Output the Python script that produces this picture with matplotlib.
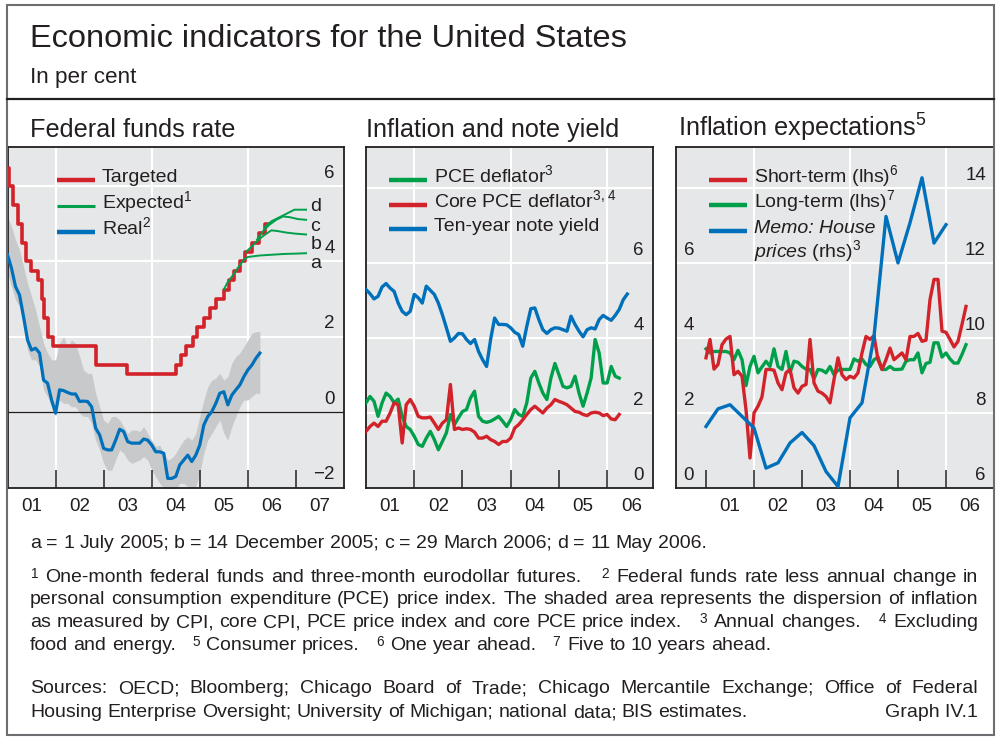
"""Economic indicators for the United States - three panel BIS-style chart."""

import matplotlib
matplotlib.use("Agg")
import matplotlib.pyplot as plt
import matplotlib.transforms as mtransforms
import numpy as np
from matplotlib.lines import Line2D
from matplotlib.patches import Rectangle

plt.rcParams["font.family"] = ["Liberation Sans", "DejaVu Sans"]
plt.rcParams["mathtext.fontset"] = "custom"
plt.rcParams["mathtext.rm"] = "Liberation Sans"
plt.rcParams["mathtext.it"] = "Liberation Sans:italic"
plt.rcParams["mathtext.bf"] = "Liberation Sans:bold"
plt.rcParams["mathtext.default"] = "regular"

# ── Colours ───────────────────────────────────────────────────────────────────
INK   = "#231f20"
BG    = "#e6e7e8"
RED   = "#d2232a"
GREEN = "#00a04b"
BLUE  = "#0070bb"
BAND  = "#c8c9cb"
FRAME = "#6d6e71"

# ── Data: Federal funds rate ─────────────────────────────────────────────────
target_dates = [2001.00, 2001.04, 2001.12, 2001.22, 2001.30, 2001.38, 2001.49, 2001.64,
                2001.71, 2001.76, 2001.85, 2001.94, 2002.85, 2003.48, 2004.50, 2004.61,
                2004.72, 2004.86, 2004.95, 2005.09, 2005.22, 2005.34, 2005.50, 2005.61,
                2005.72, 2005.83, 2005.95, 2006.08, 2006.24, 2006.36, 2006.40]
target_rate = [6.5, 6.0, 5.5, 5.0, 4.5, 4.0, 3.75, 3.5, 3.0, 2.5, 2.0, 1.75, 1.25, 1.0,
               1.25, 1.5, 1.75, 2.0, 2.25, 2.5, 2.75, 3.0, 3.25, 3.5, 3.75, 4.0, 4.25,
               4.5, 4.75, 5.0, 5.0]

exp_a_t = [2005.50, 2005.58, 2005.67, 2005.75, 2005.83, 2005.92, 2006.00, 2006.25, 2006.50,
           2006.75, 2007.00, 2007.21]
exp_a_v = [3.25, 3.45, 3.60, 3.75, 3.90, 4.05, 4.12, 4.16, 4.18, 4.20, 4.21, 4.22]
exp_b_t = [2005.96, 2006.08, 2006.18, 2006.27, 2006.35, 2006.49, 2006.62, 2006.80, 2007.00, 2007.21]
exp_b_v = [4.25, 4.40, 4.53, 4.63, 4.71, 4.83, 4.81, 4.77, 4.74, 4.72]
exp_c_t = [2006.19, 2006.31, 2006.45, 2006.59, 2006.73, 2006.87, 2007.04, 2007.21]
exp_c_v = [4.58, 4.80, 4.98, 5.11, 5.20, 5.18, 5.13, 5.11]
exp_d_t = [2006.35, 2006.49, 2006.63, 2006.80, 2006.97, 2007.21]
exp_d_v = [4.92, 5.07, 5.16, 5.27, 5.38, 5.38]
exp_names = ["a", "b", "c", "d"]
exp_name_y = [3.94, 4.44, 4.93, 5.47]

# monthly from Jan 2001
real_rate = [4.18, 3.82, 3.33, 3.11, 2.53, 1.91, 1.64, 1.69, 1.56, 0.84, 0.76, 0.31,
             -0.04, 0.58, 0.56, 0.51, 0.47, 0.47, 0.27, 0.28, 0.27, 0.13, -0.44, -0.62,
             -0.98, -1.02, -1.02, -0.76, -0.47, -0.53, -0.80, -0.84, -0.84, -0.84, -0.73, -0.76,
             -0.89, -1.07, -1.07, -1.11, -1.78, -1.78, -1.73, -1.42, -1.29, -1.16, -1.33, -1.16,
             -0.89, -0.36, -0.13, 0.00, 0.22, 0.49, 0.53, 0.18, 0.44, 0.58, 0.71, 0.93,
             1.11, 1.24, 1.42, 1.56]
real_hi = [5.20, 4.93, 4.58, 4.31, 3.87, 3.42, 3.07, 2.71, 2.27, 1.82, 1.56, 1.38,
           1.38, 1.82, 2.00, 1.73, 1.91, 1.82, 1.47, 1.11, 1.02, 1.02, 0.49, 0.13,
           -0.22, -0.31, -0.13, -0.13, -0.22, -0.40, -0.58, -0.49, -0.49, -0.53, -0.40, -0.58,
           -0.76, -0.93, -0.89, -1.11, -1.29, -1.24, -1.11, -0.93, -0.76, -0.67, -0.76, -0.58,
           -0.13, 0.31, 0.67, 0.84, 0.89, 1.02, 0.84, 0.93, 1.29, 1.47, 1.56, 1.73,
           1.91, 2.09, 2.13, 2.13]
real_lo = [3.69, 3.33, 2.98, 2.80, 2.27, 1.64, 1.38, 1.38, 1.20, 0.58, 0.40, 0.13,
           -0.13, 0.31, 0.22, 0.22, 0.13, 0.13, -0.04, -0.13, -0.13, -0.31, -0.76, -1.02,
           -1.38, -1.56, -1.56, -1.29, -1.02, -1.11, -1.29, -1.38, -1.33, -1.29, -1.20, -1.29,
           -1.56, -1.73, -1.91, -2.04, -2.18, -2.18, -2.09, -1.91, -1.91, -2.00, -2.09, -2.00,
           -1.64, -1.11, -0.76, -0.58, -0.40, -0.22, -0.58, -0.76, -0.40, -0.13, 0.13, 0.31,
           0.31, 0.40, 0.49, 0.49]

# ── Data: Inflation and note yield (monthly from Jan 2001) ───────────────────
pce_deflator = [2.27, 2.44, 2.31, 1.91, 2.27, 2.53, 2.44, 2.27, 2.37, 1.91, 1.64, 1.56,
                1.38, 1.16, 1.11, 1.33, 1.51, 1.29, 1.02, 1.24, 1.47, 1.96, 1.69, 1.87,
                2.04, 2.09, 2.40, 2.58, 1.91, 1.78, 1.75, 1.78, 1.84, 1.91, 1.78, 1.64,
                1.82, 2.09, 1.96, 1.91, 2.27, 2.93, 3.11, 2.80, 2.53, 2.36, 2.93, 3.32,
                3.02, 2.71, 2.67, 2.71, 2.98, 2.53, 2.18, 2.53, 2.93, 3.96, 3.60, 2.80,
                2.80, 3.24, 2.98, 2.93]
core_pce = [1.51, 1.64, 1.73, 1.64, 1.78, 1.78, 2.00, 2.27, 2.22, 1.20, 2.22, 2.36,
            2.18, 1.91, 1.87, 1.87, 1.89, 1.73, 1.56, 1.73, 1.82, 2.76, 1.56, 1.60,
            1.56, 1.58, 1.56, 1.49, 1.33, 1.33, 1.38, 1.29, 1.24, 1.16, 1.24, 1.24,
            1.33, 1.60, 1.69, 1.82, 1.96, 2.09, 2.18, 2.09, 2.00, 2.13, 2.22, 2.36,
            2.31, 2.27, 2.22, 2.13, 2.04, 2.02, 1.96, 1.93, 2.00, 2.02, 2.00, 1.93,
            1.96, 1.84, 1.82, 1.96]
ten_year = [5.29, 5.18, 5.04, 5.11, 5.36, 5.45, 5.33, 5.24, 4.93, 4.71, 4.62, 4.71,
            5.16, 5.07, 4.93, 5.38, 5.27, 5.16, 4.93, 4.62, 4.27, 3.91, 4.00, 4.12,
            4.11, 3.96, 3.85, 3.96, 3.64, 3.42, 3.24, 3.96, 4.53, 4.36, 4.36, 4.35,
            4.27, 4.15, 4.09, 3.78, 4.31, 4.78, 4.80, 4.49, 4.22, 4.12, 4.22, 4.27,
            4.26, 4.22, 4.18, 4.58, 4.36, 4.18, 4.03, 4.22, 4.27, 4.24, 4.49, 4.60,
            4.53, 4.47, 4.60, 4.76, 5.02, 5.17]

# ── Data: Inflation expectations (monthly from Jan 2001; house prices quarterly) ─
short_term = [3.47, 3.96, 3.17, 3.29, 3.82, 3.97, 4.04, 3.02, 3.11, 2.98, 2.09, 0.80,
              2.00, 2.18, 2.43, 3.16, 3.16, 3.14, 2.80, 2.62, 3.07, 3.16, 2.67, 2.53,
              2.71, 2.76, 3.96, 2.80, 2.58, 2.53, 2.44, 2.27, 2.89, 3.47, 3.02, 2.89,
              2.98, 2.93, 3.07, 3.60, 4.04, 3.96, 4.06, 3.42, 3.16, 3.42, 3.73, 3.42,
              3.51, 3.60, 3.42, 4.04, 4.04, 4.12, 3.91, 3.94, 5.02, 5.56, 5.56, 4.18,
              4.15, 3.96, 3.76, 3.91, 4.36, 4.84]
long_term = [3.71, 3.60, 3.64, 3.64, 3.64, 3.64, 3.60, 3.42, 3.67, 3.42, 2.73, 3.24,
             3.51, 3.07, 3.23, 3.38, 3.24, 3.71, 3.24, 3.16, 3.64, 3.08, 3.38, 3.35,
             3.24, 3.17, 3.16, 2.91, 3.16, 3.14, 3.07, 3.24, 3.02, 3.14, 3.16, 3.16,
             3.16, 3.44, 3.38, 3.44, 3.29, 3.24, 3.42, 3.49, 3.16, 3.16, 3.24, 3.16,
             3.16, 3.17, 3.38, 3.42, 3.42, 3.60, 3.07, 3.32, 3.35, 3.87, 3.87, 3.49,
             3.60, 3.44, 3.33, 3.33, 3.56, 3.82]
house_prices = [7.64, 8.11, 8.22, 7.91, 7.60, 6.53, 6.67, 7.20, 7.48, 7.13, 6.44, 6.04,
                7.87, 8.27, 10.04, 13.24, 12.00, 13.07, 14.27, 12.53, 13.02]

years_p1 = [2001, 2002, 2003, 2004, 2005, 2006, 2007]
years_p2 = [2001, 2002, 2003, 2004, 2005, 2006]
years_p3 = [2001, 2002, 2003, 2004, 2005, 2006]


def monthly(n, start=2001.0):
    return start + np.arange(n) / 12.0


def quarterly(n, start=2001.0):
    return start + np.arange(n) / 4.0


# ── Figure / layout (pixel based) ─────────────────────────────────────────────
W, H = 996, 737
fig = plt.figure(figsize=(W / 100, H / 100), dpi=100)


def fx(px):
    return px / W


def fy(py):
    return 1 - py / H


def panel(left, right, top=147, bottom=488):
    return fig.add_axes([fx(left), fy(bottom), fx(right) - fx(left), fy(top) - fy(bottom)])


fig.add_artist(Rectangle((fx(7), fy(735)), fx(994) - fx(7), fy(5) - fy(735),
                         fill=False, ec=FRAME, lw=1.5, transform=fig.transFigure))
fig.add_artist(Line2D([fx(7), fx(994)], [fy(99), fy(99)], color=INK, lw=1.6,
                      transform=fig.transFigure))

fig.text(fx(30), fy(47), "Economic indicators for the United States", fontsize=23.4,
         color=INK, va="baseline")
fig.text(fx(30), fy(83), "In per cent", fontsize=16.2, color=INK, va="baseline")
fig.text(fx(30), fy(137), "Federal funds rate", fontsize=18.2, color=INK, va="baseline")
fig.text(fx(366), fy(137), "Inflation and note yield", fontsize=18.2, color=INK, va="baseline")
fig.text(fx(678), fy(137), "Inflation expectations$^5$", fontsize=18.2, color=INK, va="baseline")

ax1 = panel(7.5, 344)
ax2 = panel(366, 653)
ax3 = panel(676, 994)


def style(ax, xlim, ylim, tick_years, label_years, hgrid):
    ax.set_facecolor(BG)
    ax.set_xlim(xlim)
    ax.set_ylim(ylim)
    for s in ax.spines.values():
        s.set_color(INK)
        s.set_linewidth(1.3)
    for y in hgrid:
        ax.axhline(y, color="white", lw=1.5, zorder=0.5)
    for x in (2002, 2004, 2006):
        ax.axvline(x, color="white", lw=1.5, zorder=0.5)
    ax.set_xticks(tick_years)
    ax.set_xticklabels([])
    ax.set_xticks([y + 0.5 for y in label_years], minor=True)
    ax.set_xticklabels([f"{y % 100:02d}" for y in label_years], minor=True)
    ax.tick_params(axis="x", which="major", direction="in", length=13, width=1.1, color=INK)
    ax.tick_params(axis="x", which="minor", length=0, pad=7, labelsize=13.5, labelcolor=INK)
    ax.set_yticks([])


def ylabels(ax, vals, side, inset_pt=6.5):
    trans = mtransforms.blended_transform_factory(ax.transAxes, ax.transData)
    for v in vals:
        txt = f"{v:g}".replace("-", "\u2212")
        if side == "right":
            ax.annotate(txt, xy=(1, v), xycoords=trans, xytext=(-inset_pt, 5.8),
                        textcoords="offset points", ha="right", va="baseline",
                        fontsize=13.5, color=INK)
        else:
            ax.annotate(txt, xy=(0, v), xycoords=trans, xytext=(inset_pt, 5.8),
                        textcoords="offset points", ha="left", va="baseline",
                        fontsize=13.5, color=INK)


def legend_rows(x_line, rows, colors, labels, widths):
    """Key: a 38 px swatch followed by its label, rows given in pixels from the top."""
    for y, c, lab, lw in zip(rows, colors, labels, widths):
        fig.add_artist(Line2D([fx(x_line), fx(x_line + 38)], [fy(y), fy(y)], color=c, lw=lw,
                              solid_capstyle="butt", transform=fig.transFigure))
        fig.text(fx(x_line + 45), fy(y + 2), lab, fontsize=14, color=INK, va="baseline")


# ── Panel 1: Federal funds rate ──────────────────────────────────────────────
style(ax1, (2001.0, 2008.0), (-2.035, 7.05), years_p1[1:], years_p1, [2, 4, 6])
ax1.axhline(0, color=INK, lw=0.9, zorder=1.5)
t_real = monthly(len(real_rate))
ax1.fill_between(t_real, real_lo, real_hi, color=BAND, lw=0, zorder=1)
ax1.plot(t_real, real_rate, color=BLUE, lw=2.3, zorder=3)
ax1.plot(target_dates, target_rate, color=RED, lw=2.6, drawstyle="steps-post", zorder=3)
for t, v in [(exp_a_t, exp_a_v), (exp_b_t, exp_b_v), (exp_c_t, exp_c_v), (exp_d_t, exp_d_v)]:
    ax1.plot(t, v, color=GREEN, lw=1.4, zorder=4)
for name, yv in zip(exp_names, exp_name_y):
    ax1.text(2007.3, yv, name, fontsize=14, color=INK, va="center", ha="left")
ylabels(ax1, [6, 4, 2, 0, -2], "right")
legend_rows(57, [180, 206, 232], [RED, GREEN, BLUE],
            ["Targeted", "Expected$^1$", "Real$^2$"], [3.2, 2.2, 3.2])

# ── Panel 2: Inflation and note yield ────────────────────────────────────────
style(ax2, (2001.0, 2006.95), (0, 9.09), years_p2[1:], years_p2, [2, 4, 6, 8])
ax2.plot(monthly(len(ten_year)), ten_year, color=BLUE, lw=2.4, zorder=3)
ax2.plot(monthly(len(pce_deflator)), pce_deflator, color=GREEN, lw=2.4, zorder=3)
ax2.plot(monthly(len(core_pce)), core_pce, color=RED, lw=2.4, zorder=3)
ylabels(ax2, [6, 4, 2, 0], "right")
legend_rows(389, [180, 205, 229], [GREEN, RED, BLUE],
            ["PCE deflator$^3$", "Core PCE deflator$^{3,\\,4}$", "Ten-year note yield"],
            [3.2, 3.2, 3.2])

# ── Panel 3: Inflation expectations ──────────────────────────────────────────
style(ax3, (2000.375, 2007.0), (0, 9.09), years_p3, years_p3, [2, 4, 6, 8])
ax3b = ax3.twinx()
ax3b.set_ylim(6, 15.09)
ax3b.set_yticks([])
for s in ax3b.spines.values():
    s.set_visible(False)
ax3.plot(monthly(len(long_term)), long_term, color=GREEN, lw=2.4, zorder=3)
ax3.plot(monthly(len(short_term)), short_term, color=RED, lw=2.4, zorder=3)
ax3b.plot(quarterly(len(house_prices)), house_prices, color=BLUE, lw=2.4, zorder=3)
ylabels(ax3, [6, 4, 2, 0], "left", inset_pt=5.5)
ylabels(ax3b, [14, 12, 10, 8, 6], "right", inset_pt=5.8)
legend_rows(709, [180, 205, 231], [RED, GREEN, BLUE],
            ["Short-term (lhs)$^6$", "Long-term (lhs)$^7$", ""], [3.2, 3.2, 3.2])
fig.text(fx(754), fy(233), "Memo: House", fontsize=14, color=INK, va="baseline",
         fontstyle="italic")
fig.text(fx(754), fy(257), "$\\mathit{prices}$ (rhs)$^3$", fontsize=14, color=INK,
         va="baseline")

# ── Footnotes (justified lines) ──────────────────────────────────────────────
FOOT_FS = 14.0
X0, X1 = 30, 978
renderer = fig.canvas.get_renderer()


def put_line(text, y_px, justify=True):
    words = text.split(" ")
    arts = [fig.text(0, fy(y_px), w, fontsize=FOOT_FS, color=INK, va="baseline") for w in words]
    widths = [a.get_window_extent(renderer).width if w else 0.0 for a, w in zip(arts, words)]
    if justify:
        gap = (X1 - X0 - sum(widths)) / (len(words) - 1)
    else:
        probe1 = fig.text(0, 0, "a a", fontsize=FOOT_FS)
        probe2 = fig.text(0, 0, "aa", fontsize=FOOT_FS)
        gap = probe1.get_window_extent(renderer).width - probe2.get_window_extent(renderer).width
        probe1.remove()
        probe2.remove()
    x = X0
    for a, w in zip(arts, widths):
        a.set_x(fx(x))
        x += w + gap


put_line("a = 1 July 2005; b = 14 December 2005; c = 29 March 2006; d = 11 May 2006.", 548, False)
put_line("$^1$ One-month federal funds and three-month eurodollar futures.   $^2$ Federal funds "
         "rate less annual change in", 582)
put_line("personal consumption expenditure (PCE) price index. The shaded area represents the "
         "dispersion of inflation", 604)
put_line("as measured by CPI, core CPI, PCE price index and core PCE price index.   $^3$ Annual "
         "changes.   $^4$ Excluding", 627)
put_line("food and energy.   $^5$ Consumer prices.   $^6$ One year ahead.   $^7$ Five to 10 "
         "years ahead.", 650, False)
put_line("Sources: OECD; Bloomberg; Chicago Board of Trade; Chicago Mercantile Exchange; "
         "Office of Federal", 693)
put_line("Housing Enterprise Oversight; University of Michigan; national data; BIS estimates.",
         717, False)
fig.text(fx(X1), fy(717), "Graph IV.1", fontsize=FOOT_FS, color=INK, va="baseline", ha="right")

fig.savefig("out.png", dpi=100)
